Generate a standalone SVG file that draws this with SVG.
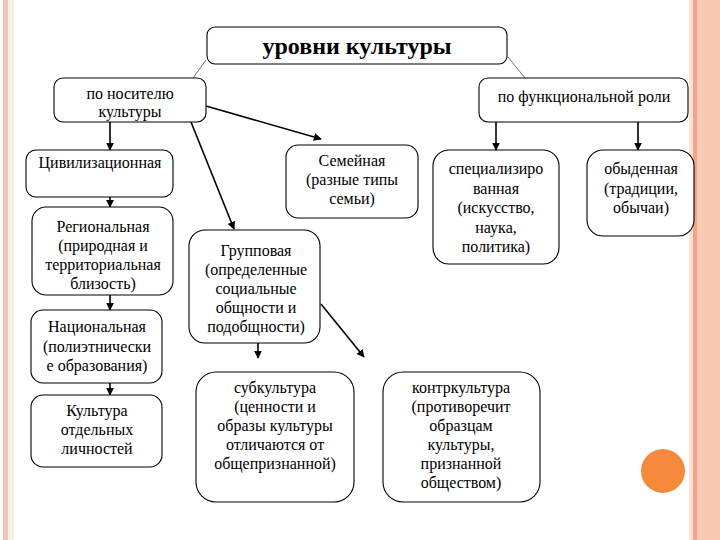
<svg xmlns="http://www.w3.org/2000/svg" width="720" height="540" viewBox="0 0 720 540">
<defs>
<style>
.box{fill:#fff;stroke:#000;stroke-width:1.1}
.t{font-family:'Liberation Serif','Times New Roman',serif;font-size:16px;fill:#000;text-anchor:middle}
.title{font-family:'Liberation Serif','Times New Roman',serif;font-size:24px;font-weight:bold;fill:#000;text-anchor:middle}
.arr{stroke:#000;stroke-width:1.6;fill:none;marker-end:url(#ah)}
.thin{stroke:#555;stroke-width:0.8;fill:none}
</style>
<marker id="ah" viewBox="0 0 10 10" refX="9" refY="5" markerWidth="5" markerHeight="5" orient="auto" markerUnits="strokeWidth">
<path d="M0,0 L10,5 L0,10 z" fill="#000"/>
</marker>
</defs>
<rect x="0" y="0" width="720" height="540" fill="#fff"/>
<g id="frame">
<rect x="3" y="0" width="5" height="540" fill="#F9C4AC"/>
<rect x="9" y="0" width="5" height="540" fill="#FDEDE3"/>
<rect x="689" y="0" width="4" height="540" fill="#FDE3D6"/>
<rect x="693" y="0" width="4" height="540" fill="#F2A584"/>
<rect x="697" y="0" width="23" height="540" fill="#FBCAB4"/>
<circle cx="663" cy="471" r="22" fill="#F58A3C"/>
</g>
<g id="connectors">
<line class="thin" x1="206" y1="60" x2="193" y2="78"/>
<line class="thin" x1="508" y1="57" x2="525" y2="78"/>
<line class="arr" x1="110" y1="122" x2="110" y2="150"/>
<line class="arr" x1="110" y1="197" x2="110" y2="207"/>
<line class="arr" x1="110" y1="295" x2="110" y2="310"/>
<line class="arr" x1="110" y1="383" x2="110" y2="395"/>
<line class="arr" x1="206" y1="106" x2="321" y2="139"/>
<line class="arr" x1="191" y1="122" x2="234" y2="229"/>
<line class="arr" x1="258" y1="343" x2="258" y2="358"/>
<line class="arr" x1="321" y1="304" x2="364" y2="357"/>
<line class="arr" x1="496" y1="122" x2="496" y2="150"/>
<line class="arr" x1="638" y1="122" x2="638" y2="150"/>
</g>
<g id="n-top">
<rect class="box" x="207" y="27" width="300" height="37" rx="8"/>
<text class="title" x="357" y="54">уровни культуры</text>
</g>
<g id="n-nositel">
<rect class="box" x="54" y="78" width="152" height="44" rx="9"/>
<text class="t" x="130" y="99">по носителю</text>
<text class="t" x="130" y="117">культуры</text>
</g>
<g id="n-funk">
<rect class="box" x="479" y="78" width="209" height="44" rx="9"/>
<text class="t" x="584" y="102">по функциональной роли</text>
</g>
<g id="n-civ">
<rect class="box" x="26" y="150" width="147" height="47" rx="10"/>
<text class="t" x="100" y="168">Цивилизационная</text>
</g>
<g id="n-sem">
<rect class="box" x="286" y="145" width="132" height="73" rx="12"/>
<text class="t" x="352" y="166">Семейная</text>
<text class="t" x="352" y="185">(разные типы</text>
<text class="t" x="352" y="204">семьи)</text>
</g>
<g id="n-spec">
<rect class="box" x="433" y="150" width="126" height="114" rx="16"/>
<text class="t" x="496" y="174">специализиро</text>
<text class="t" x="496" y="194">ванная</text>
<text class="t" x="496" y="213">(искусство,</text>
<text class="t" x="496" y="233">наука,</text>
<text class="t" x="496" y="252">политика)</text>
</g>
<g id="n-obyd">
<rect class="box" x="587" y="150" width="107" height="86" rx="16"/>
<text class="t" x="641" y="174">обыденная</text>
<text class="t" x="641" y="194">(традиции,</text>
<text class="t" x="641" y="213">обычаи)</text>
</g>
<g id="n-reg">
<rect class="box" x="32" y="207" width="141" height="88" rx="14"/>
<text class="t" x="103" y="232">Региональная</text>
<text class="t" x="103" y="251">(природная и</text>
<text class="t" x="103" y="270">территориальная</text>
<text class="t" x="103" y="289">близость)</text>
</g>
<g id="n-grup">
<rect class="box" x="189" y="230" width="131" height="113" rx="16"/>
<text class="t" x="256" y="256">Групповая</text>
<text class="t" x="256" y="275">(определенные</text>
<text class="t" x="256" y="294">социальные</text>
<text class="t" x="256" y="313">общности и</text>
<text class="t" x="256" y="332">подобщности)</text>
</g>
<g id="n-nac">
<rect class="box" x="31" y="310" width="131" height="73" rx="12"/>
<text class="t" x="97" y="332">Национальная</text>
<text class="t" x="97" y="352">(полиэтнически</text>
<text class="t" x="97" y="371">е образования)</text>
</g>
<g id="n-lich">
<rect class="box" x="31" y="395" width="131" height="72" rx="12"/>
<text class="t" x="97" y="416">Культура</text>
<text class="t" x="97" y="435">отдельных</text>
<text class="t" x="97" y="454">личностей</text>
</g>
<g id="n-sub">
<rect class="box" x="196" y="372" width="158" height="130" rx="20"/>
<text class="t" x="275" y="393">субкультура</text>
<text class="t" x="275" y="412">(ценности и</text>
<text class="t" x="275" y="431">образы культуры</text>
<text class="t" x="275" y="450">отличаются от</text>
<text class="t" x="275" y="469">общепризнанной)</text>
</g>
<g id="n-kontr">
<rect class="box" x="383" y="372" width="157" height="130" rx="20"/>
<text class="t" x="461" y="393">контркультура</text>
<text class="t" x="461" y="412">(противоречит</text>
<text class="t" x="461" y="431">образцам</text>
<text class="t" x="461" y="450">культуры,</text>
<text class="t" x="461" y="469">признанной</text>
<text class="t" x="461" y="488">обществом)</text>
</g>
</svg>
